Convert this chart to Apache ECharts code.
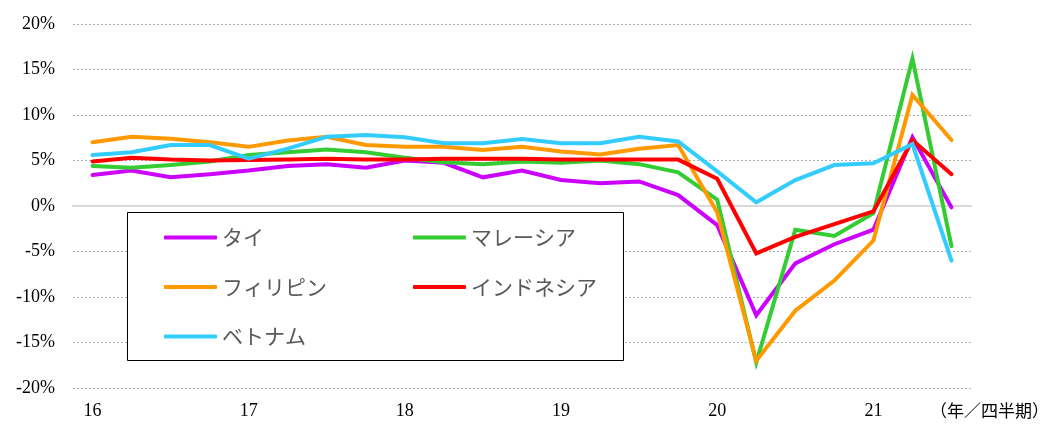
<!DOCTYPE html>
<html>
<head>
<meta charset="utf-8">
<script src="https://cdn.jsdelivr.net/npm/echarts@6/dist/echarts.min.js"></script>
<style>
  html, body { margin: 0; padding: 0; background: #fff; }
  #chart { width: 1059px; height: 424px; }
</style>
</head>
<body>
<div id="chart"></div>
<script>
// Quarters 2016Q1 .. 2021Q3 (year/quarter)
const quarters = [
  '16/1','16/2','16/3','16/4',
  '17/1','17/2','17/3','17/4',
  '18/1','18/2','18/3','18/4',
  '19/1','19/2','19/3','19/4',
  '20/1','20/2','20/3','20/4',
  '21/1','21/2','21/3'
];

// Real GDP growth, year on year (%)
const thailand    = [3.4, 3.9, 3.15, 3.5, 3.9, 4.4, 4.6, 4.2, 5.0, 4.75, 3.15, 3.9, 2.85, 2.5, 2.7, 1.2, -2.1, -12.0, -6.3, -4.2, -2.6, 7.55, -0.15];
const malaysia    = [4.4, 4.2, 4.5, 4.9, 5.6, 5.9, 6.2, 5.9, 5.3, 4.8, 4.6, 4.9, 4.75, 5.0, 4.6, 3.7, 0.7, -17.2, -2.6, -3.3, -0.8, 16.2, -4.4];
const philippines = [7.0, 7.6, 7.4, 7.0, 6.5, 7.2, 7.6, 6.7, 6.5, 6.5, 6.15, 6.5, 6.0, 5.65, 6.3, 6.7, -0.7, -17.0, -11.5, -8.2, -3.8, 12.2, 7.25];
const indonesia   = [4.9, 5.3, 5.1, 5.0, 5.05, 5.1, 5.2, 5.1, 5.1, 5.2, 5.2, 5.2, 5.1, 5.1, 5.1, 5.1, 3.0, -5.2, -3.4, -2.0, -0.6, 7.25, 3.5];
const vietnam     = [5.6, 5.9, 6.7, 6.7, 5.2, 6.3, 7.6, 7.8, 7.55, 6.9, 6.9, 7.35, 6.9, 6.9, 7.6, 7.1, 3.8, 0.4, 2.85, 4.5, 4.7, 6.8, -6.0];

const seriesDefs = [
  { name: 'タイ',         data: thailand,    color: '#cc00ff' },
  { name: 'マレーシア',   data: malaysia,    color: '#33cc33' },
  { name: 'フィリピン',   data: philippines, color: '#ff9900' },
  { name: 'インドネシア', data: indonesia,   color: '#ff0000' },
  { name: 'ベトナム',     data: vietnam,     color: '#33ccff' }
];

const serif = '"Liberation Serif", "Times New Roman", serif';
const cjk = '"Noto Sans CJK JP", "Noto Sans", sans-serif';

const chart = echarts.init(document.getElementById('chart'), null, { renderer: 'canvas' });

const legendCommon = {
  orient: 'vertical',
  icon: 'roundRect',
  itemWidth: 53,
  itemHeight: 4,
  itemGap: 28.5,
  selectedMode: false,
  z: 10,
  textStyle: { fontFamily: cjk, fontSize: 21, color: '#595959', lineHeight: 21, padding: [0, 0, 0, 0] },
  padding: 0
};

chart.setOption({
  animation: false,
  backgroundColor: '#ffffff',
  grid: { left: 73, right: 88, top: 24, bottom: 36, containLabel: false },
  legend: [
    Object.assign({}, legendCommon, { left: 164, top: 227, data: ['タイ', 'フィリピン', 'ベトナム'] }),
    Object.assign({}, legendCommon, { left: 413, top: 227, data: ['マレーシア', 'インドネシア'] })
  ],
  xAxis: [
    {
      type: 'category',
      data: quarters,
      boundaryGap: true,
      position: 'bottom',
      axisLine: { show: false, onZero: false },
      axisTick: { show: false },
      splitLine: { show: false },
      axisLabel: {
        interval: 3,
        margin: 14,
        fontFamily: serif,
        fontSize: 18,
        color: '#000',
        formatter: v => v.split('/')[0]
      }
    },
    {
      // zero line
      type: 'category',
      data: quarters,
      boundaryGap: true,
      axisLine: { show: true, onZero: true, onZeroAxisIndex: 0, lineStyle: { color: '#d9d9d9', width: 2 } },
      axisTick: { show: false },
      axisLabel: { show: false },
      splitLine: { show: false }
    }
  ],
  yAxis: {
    type: 'value',
    min: -20,
    max: 20,
    interval: 5,
    axisLine: { show: false },
    axisTick: { show: false },
    axisLabel: {
      margin: 18,
      fontFamily: serif,
      fontSize: 18,
      color: '#000',
      formatter: v => v + '%'
    },
    splitLine: {
      show: true,
      lineStyle: { color: '#b0b0b0', width: 1, type: [2, 2] }
    }
  },
  graphic: [
    {
      type: 'rect',
      z: 3,
      shape: { x: 127.5, y: 212.5, width: 496, height: 148 },
      style: { fill: '#ffffff', stroke: '#000000', lineWidth: 1 }
    },
    {
      type: 'text',
      z: 10,
      left: 930,
      top: 402,
      style: { text: '（年／四半期）', fontFamily: cjk, fontSize: 17, fill: '#000' }
    }
  ],
  series: seriesDefs.map(s => ({
    name: s.name,
    type: 'line',
    data: s.data,
    xAxisIndex: 0,
    symbol: 'none',
    z: 2,
    color: s.color,
    lineStyle: { color: s.color, width: 4, cap: 'round', join: 'miter' },
    itemStyle: { color: s.color }
  }))
});
</script>
</body>
</html>
